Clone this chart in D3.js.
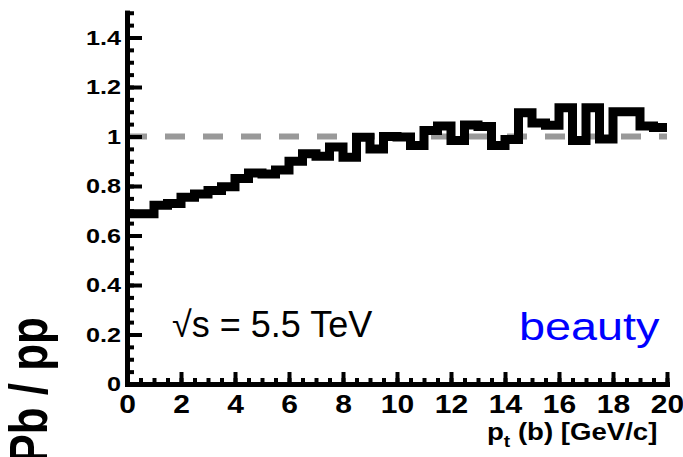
<!DOCTYPE html>
<html>
<head>
<meta charset="utf-8">
<script src="https://cdn.jsdelivr.net/npm/d3@7"></script>
<style>
  body { margin: 0; background: #fff; }
  svg { display: block; }
  text { font-family: "Liberation Sans", Arial, Helvetica, sans-serif; }
</style>
</head>
<body>
<div id="chart"></div>
<script>
// PbPb / pp ratio for beauty, 0.5 GeV/c bins from 0 to 20 GeV/c
const binLow = [0, 0.5, 1, 1.5, 2, 2.5, 3, 3.5, 4, 4.5,
                5, 5.5, 6, 6.5, 7, 7.5, 8, 8.5, 9, 9.5,
                10, 10.5, 11, 11.5, 12, 12.5, 13, 13.5, 14, 14.5,
                15, 15.5, 16, 16.5, 17, 17.5, 18, 18.5, 19, 19.5];
const binWidth = 0.5;
const ratio = [0.688, 0.688, 0.722, 0.729, 0.755, 0.768, 0.782, 0.797, 0.830, 0.853,
               0.848, 0.865, 0.900, 0.930, 0.920, 0.958, 0.916, 0.997, 0.950, 1.000,
               0.998, 0.964, 1.024, 1.042, 0.984, 1.046, 1.040, 0.964, 0.988, 1.096,
               1.055, 1.045, 1.116, 0.984, 1.116, 0.990, 1.100, 1.100, 1.042, 1.036];
const refLevel = 1;

const xTicks = [0, 2, 4, 6, 8, 10, 12, 14, 16, 18, 20];
const xMinor = d3.range(0, 20.01, 0.5);
const yTicks = [0, 0.2, 0.4, 0.6, 0.8, 1, 1.2, 1.4];
const yMinor = d3.range(0, 1.501, 0.05);

const xTitle = ['p', 't', ' (b) [GeV/c]'];
const yTitle = 'PbPb / pp';
const energyLabel = '\u221As = 5.5 TeV';
const flavourLabel = 'beauty';

const width = 683, height = 457;
const stretch = 1.2; // text in the original is drawn a bit wide

const x = d3.scaleLinear().domain([0, 20]).range([127, 667]);
const y = d3.scaleLinear().domain([0, 1.5]).range([384, 12.75]);

const svg = d3.select('#chart').append('svg')
    .attr('width', width)
    .attr('height', height);

// dashed reference at 1
svg.append('line')
    .attr('x1', x(0)).attr('x2', x(20))
    .attr('y1', y(refLevel)).attr('y2', y(refLevel))
    .attr('stroke', '#999')
    .attr('stroke-width', 6)
    .attr('stroke-dasharray', '20 18');

// histogram
const pts = binLow.map((b, i) => [b, ratio[i]]);
pts.push([binLow[binLow.length - 1] + binWidth, ratio[ratio.length - 1]]);

const line = d3.line()
    .x(d => x(d[0]))
    .y(d => y(d[1]))
    .curve(d3.curveStepAfter);

svg.append('path')
    .attr('d', line(pts))
    .attr('fill', 'none')
    .attr('stroke', '#000')
    .attr('stroke-width', 9)
    .attr('stroke-linejoin', 'miter');

// axes
const fmt = d => d3.format('.1f')(d).replace(/\.0$/, '');

function styleAxis(g) {
  g.selectAll('.tick line').attr('stroke', '#000').attr('stroke-width', 4);
  g.select('.domain').attr('stroke', '#000').attr('stroke-width', 5)
      .attr('stroke-linecap', 'square');
}

svg.append('g')
    .attr('transform', `translate(${x(0)},0)`)
    .call(d3.axisLeft(y).tickValues(yMinor).tickSizeInner(-7).tickSizeOuter(0).tickFormat(''))
    .call(styleAxis);

svg.append('g')
    .attr('transform', `translate(0,${y(0)})`)
    .call(d3.axisBottom(x).tickValues(xMinor).tickSizeInner(-6).tickSizeOuter(0).tickFormat(''))
    .call(styleAxis);

const yAxis = svg.append('g')
    .attr('transform', `translate(${x(0)},0)`)
    .call(d3.axisLeft(y).tickValues(yTicks).tickSizeInner(-15).tickSizeOuter(0)
        .tickPadding(5).tickFormat(fmt))
    .call(styleAxis);

yAxis.selectAll('text')
    .attr('font-size', 21)
    .attr('font-weight', 'bold')
    .attr('font-family', '"Liberation Sans", Arial, sans-serif')
    .attr('fill', '#000')
    .attr('transform', `scale(${stretch},1)`);

const xAxis = svg.append('g')
    .attr('transform', `translate(0,${y(0)})`)
    .call(d3.axisBottom(x).tickValues(xTicks).tickSizeInner(-12).tickSizeOuter(0)
        .tickPadding(11).tickFormat(d3.format('d')))
    .call(styleAxis);

xAxis.selectAll('text')
    .attr('font-size', 25)
    .attr('font-weight', 'bold')
    .attr('font-family', '"Liberation Sans", Arial, sans-serif')
    .attr('fill', '#000')
    .attr('transform', `scale(${stretch},1)`);

// axis titles
const xt = svg.append('text')
    .attr('transform', `translate(487,440) scale(${stretch},1)`)
    .attr('font-size', 23)
    .attr('font-weight', 'bold');
xt.append('tspan').text(xTitle[0]);
xt.append('tspan').attr('font-size', 16).attr('dy', 7).text(xTitle[1]);
xt.append('tspan').attr('dy', -7).text(xTitle[2]);

svg.append('text')
    .attr('transform', `translate(46.7,317) scale(${stretch},1) rotate(-90)`)
    .attr('text-anchor', 'end')
    .attr('font-size', 44)
    .attr('font-weight', 'bold')
    .text(yTitle);

// labels
svg.append('text')
    .attr('x', 172)
    .attr('y', 337)
    .attr('font-size', 36)
    .text(energyLabel);

svg.append('text')
    .attr('transform', `translate(519,340) scale(${stretch},1)`)
    .attr('font-size', 39)
    .attr('fill', '#0000ff')
    .text(flavourLabel);
</script>
</body>
</html>
